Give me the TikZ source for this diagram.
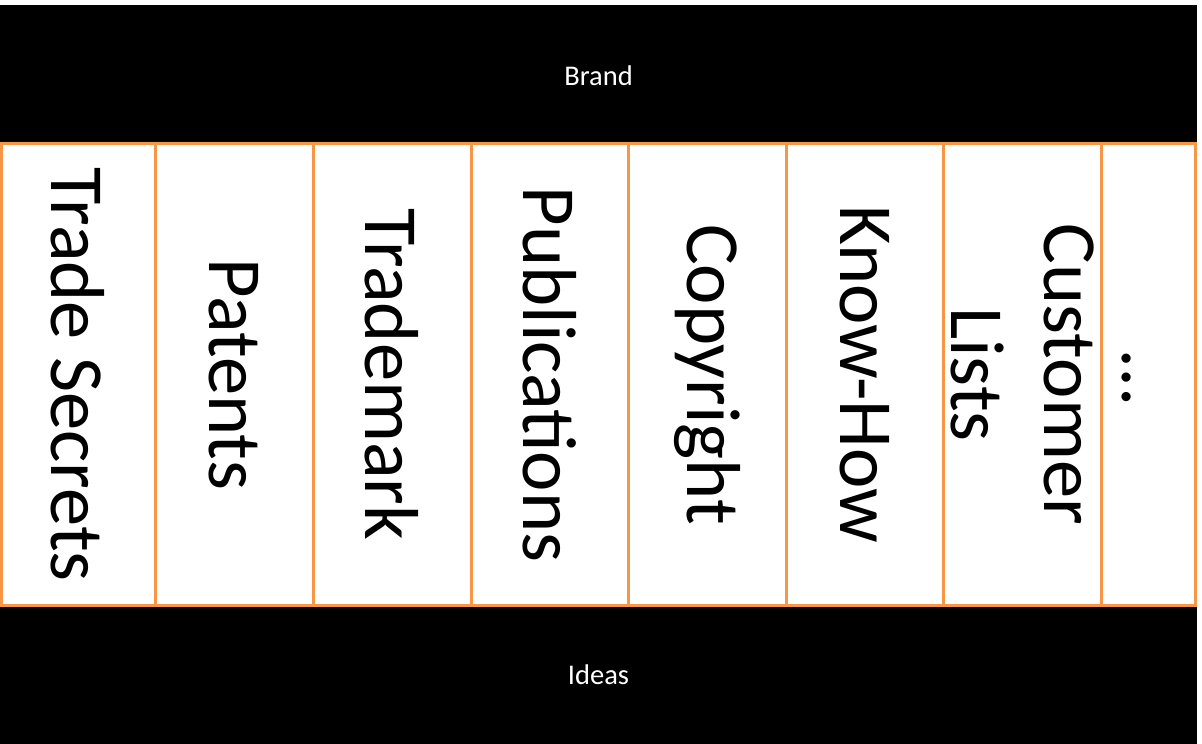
\documentclass[tikz,border=0pt]{standalone}
\usepackage{fontspec}
\setmainfont{Carlito}
\definecolor{orng}{HTML}{F79646}
\begin{document}
\begin{tikzpicture}[x=1pt,y=-1pt,
  band/.style={fill=black,text=white,font=\fontsize{28.5}{34}\selectfont,inner sep=0pt,minimum width=1197pt,text depth=0pt},
  colbox/.style={draw=orng,line width=3pt,rotate=-90,minimum width=462pt,inner sep=0pt,font=\fontsize{76.5}{93}\selectfont,align=center},
  coltext/.style={rotate=-90,inner sep=0pt,font=\fontsize{76.5}{93}\selectfont}]
\useasboundingbox (0,0) rectangle (1202,744);
\fill[white] (0,0) rectangle (1202,744);
\node[band,minimum height=137pt,text height=23pt] (brand) at (598.5,73.5) {Brand};
\node[band,minimum height=138pt,text height=18pt] (ideas) at (598.5,675) {Ideas};
\foreach \l/\r/\t/\n in {1/155/Trade Secrets/c1, 155/313.5/Patents/c2, 313.5/471/Trademark/c3, 471/628.5/Publications/c4, 628.5/786/Copyright/c5, 786/943.5/Know-How/c6, 943.5/1101/Customer\\Lists/c7, 1101/1195.5/{}/c8}{
  \pgfmathsetmacro{\cx}{(\l+\r)/2}
  \pgfmathsetmacro{\w}{\r-\l}
  \node[colbox,minimum height=\w pt] (\n) at (\cx,374.5) {\t};
}
\node[coltext] (dots) at (1127,378) {\dots};
\end{tikzpicture}
\end{document}
